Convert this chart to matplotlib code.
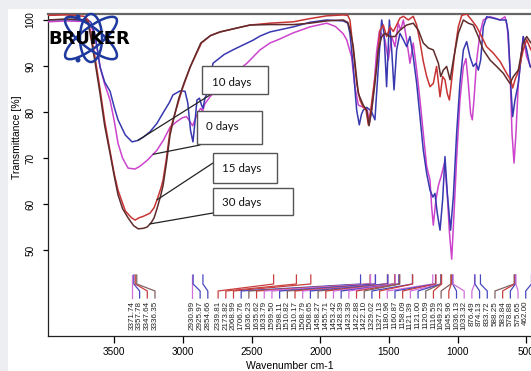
import matplotlib
matplotlib.use("Agg")
import matplotlib.pyplot as plt
import numpy as np
from matplotlib.patches import Rectangle, Ellipse
from matplotlib.transforms import IdentityTransform

# spectra (wavenumber, transmittance %)
wn_0d = [3985, 3850, 3760, 3700, 3670, 3641, 3620, 3604, 3570, 3531, 3500, 3473, 3440, 3400, 3350,
         3313, 3260, 3189, 3140, 3094, 3050, 3007, 2975, 2955, 2930, 2910, 2890, 2870, 2857, 2840,
         2803, 2750, 2679, 2600, 2534, 2439, 2366, 2300, 2197, 2075, 1953, 1890, 1833, 1808, 1772,
         1748, 1723, 1700, 1687, 1657, 1643, 1626, 1610, 1590, 1570, 1553, 1529, 1505, 1480, 1456,
         1432, 1415, 1395, 1371, 1347, 1323, 1298, 1274, 1250, 1225, 1201, 1189, 1177, 1158, 1140,
         1120, 1095, 1075, 1060, 1043, 1026, 1007, 983, 958, 939, 922, 905, 893, 881, 861, 837, 813,
         764, 728, 691, 655, 638, 619, 604, 589, 575, 558, 522, 497, 468, 400]
t_0d = [99.6, 99.8, 99.7, 99.8, 98.8, 96.3, 93, 89.8, 86, 82.6, 78, 73.2, 70, 67.8, 67.6,
        68.2, 69.5, 71.7, 74, 76.7, 77.8, 78.7, 79.0, 78.2, 77.0, 78.5, 80.0, 80.8, 80.2, 81.8,
        83.3, 85, 87, 89, 90.6, 93.5, 95, 95.8, 97.2, 98.5, 99.3, 98.6, 97, 95.7, 92,
        85.5, 81.5, 81.2, 81.1, 80.4, 77.5, 80.4, 85, 93, 97.5, 97, 95.7, 91.3, 96.4, 94.2,
        99.3, 97.8, 100, 95.7, 90.6, 95, 89.1, 82.6, 75.4, 68.1, 65.2, 59.4, 55.4, 60.9, 64,
        66, 69, 62, 54, 48, 58, 70, 82.6, 89.9, 91.6, 86.2, 79.6, 78.3, 82.6, 91.3, 97.1, 100,
        100.7, 100.4, 100, 100.7, 98.5, 89.9, 75.4, 68.9, 75.4, 86.2, 96.4, 92, 89.9, 90]

wn_10d = [3985, 3850, 3760, 3700, 3670, 3641, 3620, 3604, 3570, 3531, 3500, 3473, 3420, 3371, 3330,
          3290, 3240, 3190, 3145, 3100, 3073, 3020, 2985, 2965, 2945, 2927, 2912, 2898, 2880, 2865,
          2854, 2840, 2825, 2800, 2781, 2700, 2636, 2560, 2490, 2439, 2366, 2197, 2075, 1953, 1833,
          1800, 1784, 1760, 1745, 1735, 1716, 1700, 1687, 1662, 1640, 1626, 1602, 1590, 1577, 1553,
          1536, 1517, 1497, 1480, 1463, 1444, 1420, 1395, 1371, 1347, 1323, 1298, 1274, 1250, 1225,
          1201, 1180, 1165, 1148, 1128, 1109, 1092, 1075, 1051, 1031, 1007, 983, 958, 934, 910, 886,
          866, 849, 832, 813, 789, 740, 691, 647, 631, 614, 599, 582, 558, 522, 497, 473, 400]
t_10d = [100.0, 100.1, 100.0, 100.2, 99.5, 97, 93, 89.8, 86.5, 84.5, 81, 78.3, 75, 73.5, 73.8,
         74.5, 75.7, 77.5, 79.8, 82, 83.7, 84.6, 84.5, 82, 76, 73.5, 78, 82.6, 83, 81.5,
         80.8, 83, 84, 88, 90.6, 92.5, 93.5, 94.6, 95.6, 96.5, 97.4, 98.5, 99.5, 100, 99.8,
         99.3, 97, 89.9, 84, 80.4, 77.2, 79.5, 80.4, 81.0, 80.5, 80, 78.3, 84, 89.9, 100,
         97.1, 85.5, 100, 93.5, 84.8, 93.5, 97.1, 95.7, 94.2, 96.4, 92, 86.2, 79, 71.7, 66.6,
         63, 61.5, 62.3, 58, 54.3, 60.9, 70.3, 62.3, 54.3, 61.6, 75.4, 86.2, 93.5, 95.3, 92, 89.9,
         90.6, 89.1, 91.3, 98.5, 100.7, 100.4, 100, 100, 97.1, 86.2, 79, 82.6, 86.2, 96.4, 93.5, 89.9, 88]

wn_15d = [3985, 3850, 3760, 3720, 3692, 3670, 3641, 3604, 3570, 3531, 3500, 3473, 3420, 3375, 3348,
          3320, 3290, 3240, 3210, 3189, 3160, 3145, 3120, 3094, 3050, 3007, 2947, 2900, 2865, 2800,
          2730, 2600, 2512, 2366, 2197, 2075, 1953, 1833, 1800, 1784, 1760, 1735, 1711, 1687, 1667,
          1650, 1633, 1614, 1590, 1565, 1541, 1517, 1492, 1468, 1444, 1420, 1395, 1359, 1323, 1298,
          1274, 1250, 1225, 1201, 1177, 1153, 1128, 1109, 1092, 1075, 1060, 1043, 1019, 995, 970,
          934, 898, 861, 825, 789, 740, 691, 643, 614, 599, 582, 558, 522, 497, 466, 400]
t_15d = [101.0, 101.1, 100.9, 100.8, 100.0, 97, 92, 85, 78, 71.5, 66.5, 63, 58.5, 57, 56.5,
         57.0, 57.3, 58, 59.2, 60.9, 63.5, 65.2, 70, 76, 80.5, 84.8, 89.8, 92.8, 95, 96.6,
         97.4, 98.3, 98.9, 99.3, 99.6, 100.3, 100.9, 101.1, 101, 100, 93.5, 86.2, 82.6, 81, 80.4,
         77.2, 80.4, 84.8, 89.9, 97.8, 98.9, 96.4, 98.5, 97.5, 98.9, 100.4, 100.8, 100, 100.8, 98.9,
         95.3, 91, 87.7, 85.5, 86.2, 89.9, 83.3, 87.7, 87, 84, 82.6, 87, 93.5, 98.5, 101,
         101.3, 100, 98.5, 96.4, 94.2, 92.8, 91, 88.4, 87, 85.2, 87, 88.8, 93.5, 95.7, 93.5, 92]

wn_30d = [3985, 3850, 3760, 3710, 3692, 3670, 3641, 3604, 3570, 3531, 3500, 3473, 3440, 3400, 3360,
          3326, 3290, 3260, 3230, 3210, 3189, 3165, 3145, 3120, 3094, 3060, 3030, 2990, 2947, 2900,
          2870, 2800, 2730, 2600, 2512, 2366, 2197, 2075, 1953, 1833, 1800, 1784, 1760, 1723, 1687,
          1662, 1645, 1626, 1602, 1577, 1553, 1529, 1492, 1456, 1420, 1371, 1323, 1286, 1250, 1213,
          1177, 1140, 1123, 1104, 1080, 1055, 1031, 995, 958, 922, 886, 849, 813, 764, 716, 667,
          619, 594, 558, 522, 497, 466, 400]
t_30d = [100.0, 100.2, 100.1, 100.0, 99.5, 96, 91, 84, 77, 71, 66, 62, 59, 57, 55.3,
         54.6, 54.7, 55, 56, 57, 59, 61.5, 64, 69, 75, 79.5, 83, 86.5, 89.8, 93,
         95, 96.6, 97.4, 98.3, 98.9, 99, 99, 99.3, 99.8, 100, 99.5, 98, 94.2, 84, 81.5,
         80.4, 77, 80.4, 86.2, 93.5, 96.4, 97.1, 96.4, 96.4, 97.8, 98.9, 99.3, 97.8, 95, 93.9,
         93.5, 90.6, 87.7, 89.1, 89.9, 87, 91.3, 97.1, 100, 99.3, 98.9, 96.4, 93.5, 91.3, 89.9, 88.4,
         86.2, 87.7, 89.1, 95, 96.4, 95, 94]

series_names = ["0 days", "10 days", "15 days", "30 days"]
series_colors = ["#cc44cc", "#3838b0", "#c83434", "#5e2c2c"]
label_colors = ["#d070d8", "#4848c0", "#c84040", "#806060"]

# peak labels (text, series index 0..3)
peak_labels = ["3371.74", "3357.78", "3347.64", "3336.35",
               "2930.99", "2925.97", "2854.66",
               "2339.81", "2173.82", "2068.99", "1706.76", "1636.23", "1635.62", "1633.79",
               "1599.50", "1598.11", "1510.82", "1510.17", "1508.79", "1508.65", "1458.27",
               "1455.71", "1453.42", "1428.39", "1423.39", "1422.88", "1422.10", "1329.02",
               "1327.13", "1180.96", "1160.87", "1158.09", "1121.39", "1121.00", "1120.59",
               "1116.59", "1049.23", "1045.96", "1036.13", "1033.32", "876.49", "874.13",
               "833.72", "588.25", "583.84", "578.88", "575.65", "462.00"]
peak_series = [0, 1, 2, 3,
               0, 1, 1,
               2, 2, 2, 1, 3, 2, 0,
               0, 1, 3, 2, 0, 1, 3,
               2, 0, 1, 0, 2, 3, 1,
               2, 0, 1, 2, 0, 1, 3,
               2, 3, 2, 1, 0, 0, 1,
               1, 3, 2, 1, 0, 1]

x_ticks = [3500, 3000, 2500, 2000, 1500, 1000, 500]
y_ticks = [50, 60, 70, 80, 90, 100]

W, H = 531, 371
fig = plt.figure(figsize=(W / 100, H / 100), dpi=100)
fig.patch.set_facecolor("#eceef1")
fig.add_artist(Rectangle((8 / W, 0), 1, (H - 9) / H, transform=fig.transFigure,
                         fc="white", ec="none", zorder=0))

ax = fig.add_axes([47.7 / W, (H - 336) / H, (540 - 47.7) / W, 322 / H])
ax.set_xlim(3985, 400)
ax.set_ylim(31.3, 101.3)

curves = [(wn_0d, t_0d), (wn_10d, t_10d), (wn_15d, t_15d), (wn_30d, t_30d)]
for (w, t), c in zip(curves, series_colors):
    ax.plot(w, t, color=c, lw=1.1, zorder=3)

# peak pickers: spread labels so that they keep a minimum gap
peaks = np.array([float(s) for s in peak_labels])
gap = 56.0
pos = peaks.copy()
for i in range(1, len(pos)):
    pos[i] = min(pos[i], pos[i - 1] - gap)
pos[-1] = max(pos[-1], 504)
for i in range(len(pos) - 2, -1, -1):
    pos[i] = max(pos[i], pos[i + 1] + gap)

def ty(ypx):
    return 100 - (ypx - 20) / 4.6

for p, q, s, k in zip(peaks, pos, peak_labels, peak_series):
    ax.plot([p, p, q, q], [ty(275), ty(284), ty(291), ty(298)],
            color=label_colors[k], lw=0.9, zorder=2)
    ax.text(q, ty(301), s, rotation=90, ha="center", va="top",
            fontsize=5.8, family="Liberation Sans", color="#222222")

ax.set_xticks(x_ticks)
ax.set_yticks(y_ticks)
ax.tick_params(axis="x", direction="out", length=5, width=0.9, pad=3.2, labelsize=7.2)
ax.tick_params(axis="y", direction="out", length=3.6, width=0.9, pad=5, labelsize=7.2,
               labelrotation=90)
for lab in ax.get_yticklabels():
    lab.set_va("center")
for lab in ax.get_xticklabels() + ax.get_yticklabels():
    lab.set_family("Liberation Sans")
for side in ["left", "bottom", "right"]:
    ax.spines[side].set_color("#222222")
    ax.spines[side].set_linewidth(0.9)
ax.spines["top"].set_color("#666666")
ax.spines["top"].set_linewidth(1.6)

fig.text(17 / W, (H - 137) / H, "Transmittance [%]", rotation=90, ha="center", va="center",
         fontsize=7.5, family="Liberation Sans")
fig.text(290 / W, (H - 366) / H, "Wavenumber cm-1", ha="center", va="center",
         fontsize=7.5, family="Liberation Sans")

# callout boxes (pixel layout, y measured from top)
boxes = [(202, 66, 268, 94), (197, 111, 262, 144), (213, 153, 277, 183), (213, 188, 293, 215)]
text_at = [(211.5, 82), (206, 126), (221.5, 168), (221.5, 203)]
line_to = [(210, 95), (200, 145), (213, 163), (213, 213)]
line_from_wn = [3327, 3218, 3189, 3240]
box_series = [1, 0, 2, 3]

for (x0, y0, x1, y1), (tx, tyy), (lx, ly), w0, k, name in zip(
        boxes, text_at, line_to, line_from_wn, box_series,
        ["10 days", "0 days", "15 days", "30 days"]):
    w, t = curves[k]
    t0 = np.interp(w0, w[::-1], t[::-1])
    ax.annotate("", xy=(w0, t0), xycoords="data", xytext=(lx, H - ly),
                textcoords="figure pixels",
                arrowprops=dict(arrowstyle="-", color="#222222", lw=0.9,
                                shrinkA=0, shrinkB=0), zorder=5)
    r = Rectangle((x0, H - y1), x1 - x0, y1 - y0, fc="white", ec="#555555", lw=1.0,
                  transform=IdentityTransform(), zorder=6)
    fig.add_artist(r)
    fig.text(tx / W, (H - tyy) / H, name, ha="left", va="center", fontsize=8.3,
             family="Lato", color="#111111", zorder=7)

# Bruker logo
logo_blue = "#1e3a9e"
for ang, ww, hh in [(38, 64, 20), (-38, 64, 20), (90, 48, 22)]:
    e = Ellipse((91, H - 38), ww, hh, angle=ang, fill=False, ec=logo_blue, lw=1.8,
                transform=IdentityTransform(), zorder=8)
    fig.add_artist(e)
for dx, dy in [(78, 17), (78, 60)]:
    fig.add_artist(Ellipse((dx, H - dy), 5, 5, fc=logo_blue, ec="none",
                           transform=IdentityTransform(), zorder=8))
fig.text(48 / W, (H - 39) / H, "BRUKER", ha="left", va="center", fontsize=13,
         fontweight="bold", family="DejaVu Sans", color="black", zorder=9)

fig.savefig("out.png", dpi=100)
